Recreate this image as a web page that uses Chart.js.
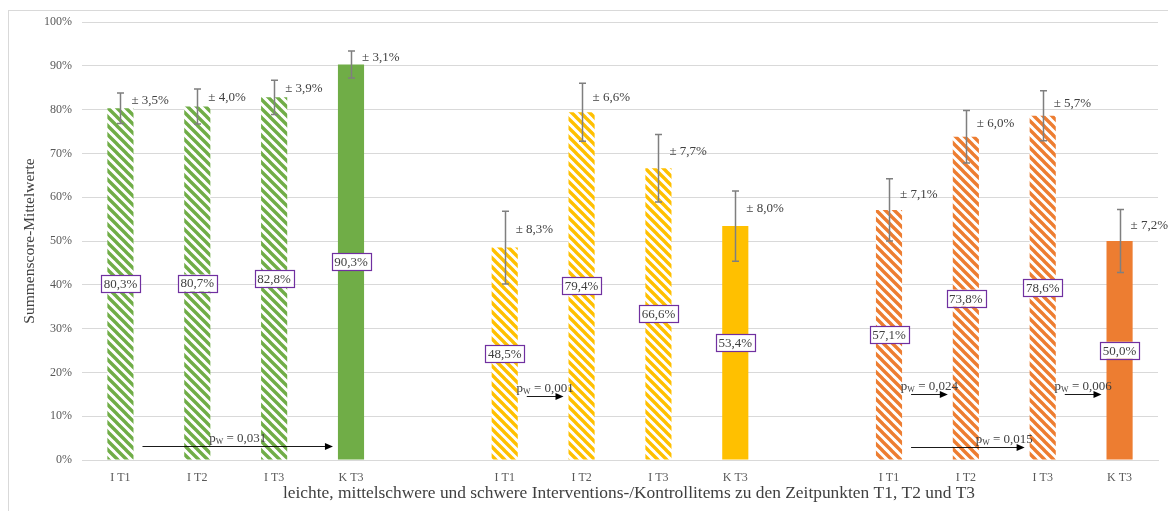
<!DOCTYPE html>
<html>
<head>
<meta charset="utf-8">
<script src="https://cdn.jsdelivr.net/npm/chart.js@4.4.1/dist/chart.umd.min.js"></script>
<style>
  html, body { margin: 0; padding: 0; background: #ffffff; }
  #wrap { width: 1168px; height: 511px; position: relative; }
</style>
</head>
<body>
<div id="wrap"><canvas id="c" width="1168" height="511"></canvas></div>
<script>
// ---------- data ----------
const groupLabels = ['I T1', 'I T2', 'I T3', 'K T3'];
const greenValues  = [80.3, 80.7, 82.8, 90.3];
const yellowValues = [48.5, 79.4, 66.6, 53.4];
const orangeValues = [57.1, 73.8, 78.6, 50.0];
const greenErrors  = [3.5, 4.0, 3.9, 3.1];
const yellowErrors = [8.3, 6.6, 7.7, 8.0];
const orangeErrors = [7.1, 6.0, 5.7, 7.2];
const yTicks = [0, 10, 20, 30, 40, 50, 60, 70, 80, 90, 100];
// significance arrows (category index from -> to, level in %, p value text)
const pFrom  = [0, 5, 10, 10, 12];
const pTo    = [3, 6, 11, 12, 13];
const pLevel = [3.2, 14.6, 15.1, 2.9, 15.1];
const pText  = ['0,031', '0,001', '0,024', '0,015', '0,006'];
const pLabelAlong = [0.5, 0.5, 0.5, 0.82, 0.5];

const xTitle = 'leichte, mittelschwere und schwere Interventions-/Kontrollitems zu den Zeitpunkten T1, T2 und T3';
const yTitle = 'Summenscore-Mittelwerte';

// ---------- build ----------
const categories = [...groupLabels, '', ...groupLabels, '', ...groupLabels];
const N = categories.length;
function place(vals, offset) {
  const a = new Array(N).fill(null);
  vals.forEach((v, i) => a[offset + i] = v);
  return a;
}
const COLORS = { green: '#70AD47', yellow: '#FFC000', orange: '#ED7D31' };
function stripes(color) {
  const s = 9;
  const cv = document.createElement('canvas');
  cv.width = s; cv.height = s;
  const g = cv.getContext('2d');
  g.fillStyle = '#ffffff';
  g.fillRect(0, 0, s, s);
  g.strokeStyle = color;
  g.lineWidth = 3.4;
  g.beginPath();
  for (let k = -1; k <= 1; k++) {
    g.moveTo(k * s - 1, -1);
    g.lineTo(k * s + s + 1, s + 1);
  }
  g.stroke();
  return g.createPattern(cv, 'repeat');
}
function fills(color) {
  const p = stripes(color);
  return [p, p, p, color];
}
function placeFill(arr, offset) {
  const a = new Array(N).fill('rgba(0,0,0,0)');
  arr.forEach((v, i) => a[offset + i] = v);
  return a;
}

const groups = [
  { vals: greenValues,  errs: greenErrors,  off: 0,  color: COLORS.green },
  { vals: yellowValues, errs: yellowErrors, off: 5,  color: COLORS.yellow },
  { vals: orangeValues, errs: orangeErrors, off: 10, color: COLORS.orange },
];
const datasets = groups.map(g => ({
  data: place(g.vals, g.off),
  errors: place(g.errs, g.off),
  backgroundColor: placeFill(fills(g.color), g.off),
  borderWidth: 0,
  grouped: false,
  categoryPercentage: 1.0,
  barPercentage: 0.34,
}));

const FONT = "'Liberation Serif', 'DejaVu Serif', serif";
const fmt = v => v.toFixed(1).replace('.', ',');

const annotations = {
  id: 'annotations',
  beforeDraw(chart) {
    const ctx = chart.ctx;
    ctx.save();
    ctx.fillStyle = '#ffffff';
    ctx.fillRect(0, 0, chart.width, chart.height);
    ctx.strokeStyle = '#d9d9d9';
    ctx.lineWidth = 1;
    ctx.strokeRect(8.5, 10.5, 1170, 520);
    ctx.restore();
  },
  afterDatasetsDraw(chart) {
    const ctx = chart.ctx;
    const ys = chart.scales.y, xs = chart.scales.x;
    ctx.save();
    // error bars + error labels
    chart.data.datasets.forEach((ds, di) => {
      const meta = chart.getDatasetMeta(di);
      meta.data.forEach((el, i) => {
        const v = ds.data[i], e = ds.errors[i];
        if (v == null) return;
        const x = Math.round(el.x) + 0.5;
        const yt = ys.getPixelForValue(v + e), yb = ys.getPixelForValue(v - e);
        ctx.strokeStyle = '#7f7f7f';
        ctx.lineWidth = 1.5;
        ctx.beginPath();
        ctx.moveTo(x, yt); ctx.lineTo(x, yb);
        ctx.moveTo(x - 3.5, yt); ctx.lineTo(x + 3.5, yt);
        ctx.moveTo(x - 3.5, yb); ctx.lineTo(x + 3.5, yb);
        ctx.stroke();
        ctx.fillStyle = '#404040';
        ctx.font = '13px ' + FONT;
        ctx.textAlign = 'left';
        ctx.textBaseline = 'middle';
        ctx.fillText('\u00B1 ' + fmt(e) + '%', el.x + 11, ys.getPixelForValue(v + e / 2));
      });
    });
    // value boxes
    chart.data.datasets.forEach((ds, di) => {
      const meta = chart.getDatasetMeta(di);
      meta.data.forEach((el, i) => {
        const v = ds.data[i];
        if (v == null) return;
        const cx = el.x, cy = (el.y + el.base) / 2;
        const txt = fmt(v) + '%';
        ctx.font = '13px ' + FONT;
        const w = ctx.measureText(txt).width + 5, h = 17;
        ctx.fillStyle = '#ffffff';
        ctx.fillRect(cx - w / 2, cy - h / 2, w, h);
        ctx.strokeStyle = '#7030A0';
        ctx.lineWidth = 1.2;
        ctx.strokeRect(Math.round(cx - w / 2) + 0.5, Math.round(cy - h / 2) + 0.5, Math.round(w), h);
        ctx.fillStyle = '#404040';
        ctx.textAlign = 'center';
        ctx.textBaseline = 'middle';
        ctx.fillText(txt, cx, cy + 1);
      });
    });
    // significance arrows
    const half = (xs.getPixelForValue(1) - xs.getPixelForValue(0)) * 0.17;
    pFrom.forEach((f, k) => {
      const x1 = xs.getPixelForValue(f) + half + 9;
      const x2 = xs.getPixelForValue(pTo[k]) - half - 5;
      const y = Math.round(ys.getPixelForValue(pLevel[k])) + 0.5;
      ctx.strokeStyle = '#000000';
      ctx.fillStyle = '#000000';
      ctx.lineWidth = 0.9;
      ctx.beginPath();
      ctx.moveTo(x1, y); ctx.lineTo(x2 - 7, y);
      ctx.stroke();
      ctx.beginPath();
      ctx.moveTo(x2, y); ctx.lineTo(x2 - 8, y - 3.5); ctx.lineTo(x2 - 8, y + 3.5);
      ctx.closePath(); ctx.fill();
      // label "p_W = x"
      const lx = x1 + (x2 - x1) * pLabelAlong[k];
      ctx.font = '13px ' + FONT;
      const p = 'p', rest = ' = ' + pText[k];
      const wp = ctx.measureText(p).width, wr = ctx.measureText(rest).width;
      ctx.font = '8px ' + FONT;
      const ww = ctx.measureText('W').width;
      const total = wp + ww + wr;
      let sx = lx - total / 2;
      const by = y - 5;
      ctx.fillStyle = '#404040';
      ctx.textAlign = 'left';
      ctx.textBaseline = 'alphabetic';
      ctx.font = '13px ' + FONT;
      ctx.fillText(p, sx, by); sx += wp;
      ctx.font = '8px ' + FONT;
      ctx.fillText('W', sx, by + 2); sx += ww;
      ctx.font = '13px ' + FONT;
      ctx.fillText(rest, sx, by);
    });
    ctx.restore();
  },
  afterDraw(chart) {
    const ctx = chart.ctx;
    const ca = chart.chartArea;
    ctx.save();
    ctx.fillStyle = '#404040';
    ctx.textAlign = 'center';
    ctx.textBaseline = 'middle';
    ctx.font = '17.4px ' + FONT;
    ctx.fillText(xTitle, 629, 493);
    ctx.translate(30, (ca.top + ca.bottom) / 2);
    ctx.rotate(-Math.PI / 2);
    ctx.font = '15.5px ' + FONT;
    ctx.fillText(yTitle, 0, 0);
    ctx.restore();
  }
};

new Chart(document.getElementById('c'), {
  type: 'bar',
  data: { labels: categories, datasets },
  options: {
    responsive: false,
    animation: false,
    devicePixelRatio: 1,
    layout: { padding: { left: 0, right: 10, top: 22, bottom: 0 } },
    plugins: { legend: { display: false }, tooltip: { enabled: false } },
    scales: {
      x: {
        grid: { display: false },
        border: { color: '#d9d9d9', width: 1 },
        ticks: { color: '#595959', font: { family: FONT, size: 12 }, padding: 3, maxRotation: 0, autoSkip: false },
        afterFit(s) { s.height = 51; }
      },
      y: {
        min: 0, max: 100,
        afterBuildTicks(s) { s.ticks = yTicks.map(v => ({ value: v })); },
        grid: { color: '#d9d9d9', lineWidth: 1, drawTicks: false },
        border: { display: false },
        ticks: { color: '#595959', font: { family: FONT, size: 12 }, padding: 10, callback: v => v + '%' },
        afterFit(s) { s.width = 82; }
      }
    }
  },
  plugins: [annotations]
});
</script>
</body>
</html>
